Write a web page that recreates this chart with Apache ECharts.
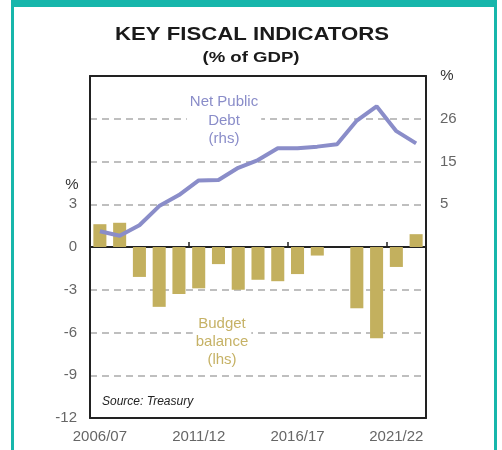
<!DOCTYPE html>
<html>
<head>
<meta charset="utf-8">
<script src="https://cdn.jsdelivr.net/npm/echarts@6/dist/echarts.min.js"></script>
<style>
  html, body { margin: 0; padding: 0; background: #fff; }
  #chart { width: 502px; height: 450px; }
</style>
</head>
<body>
<div id="chart"></div>
<script>
// Financial years
const years = ['2006/07','2007/08','2008/09','2009/10','2010/11','2011/12','2012/13','2013/14',
  '2014/15','2015/16','2016/17','2017/18','2018/19','2019/20','2020/21','2021/22','2022/23'];

// Underlying cash balance, % of GDP (left axis)
const budgetBalance = [1.6, 1.7, -2.1, -4.2, -3.3, -2.9, -1.2, -3.0, -2.3, -2.4, -1.9, -0.6, 0.0, -4.3, -6.4, -1.4, 0.9];

// Net public debt, % of GDP (right axis)
const netDebt = [-1.9, -3.0, -0.4, 4.3, 7.0, 10.6, 10.7, 13.7, 15.6, 18.5, 18.5, 18.9, 19.5, 25.3, 28.8, 22.7, 19.7];

// Left axis range and step
const lhsMin = -12, lhsMax = 12, lhsStep = 3, lhsLabelTop = 3;
// Right axis range and step (labels rounded to whole numbers)
const rhsMin = -47.75, rhsMax = 36.25, rhsStep = 10.5, rhsLabelLow = 0, rhsLabelHigh = 30;

const FONT = 'Liberation Sans, Arial, sans-serif';
const teal = '#17b6ab';
const debtColor = '#8a8dc9';
const balanceColor = '#c3b05e';
const balanceText = '#c6b266';
const labelGrey = '#666666';
const frame = { color: '#222', width: 2 };

const chart = echarts.init(document.getElementById('chart'), null, { renderer: 'canvas' });

chart.setOption({
  backgroundColor: '#ffffff',
  animation: false,
  grid: {
    left: 90, right: 76, top: 76, bottom: 32,
    show: false, containLabel: false
  },
  xAxis: [
    {
      // bottom edge of the frame with the year labels
      type: 'category', data: years, position: 'bottom',
      axisLine: { show: true, onZero: false, lineStyle: frame },
      axisTick: { show: false },
      axisLabel: { interval: 4, color: labelGrey, fontFamily: FONT, fontSize: 15, margin: 11 },
      splitLine: { show: false }
    },
    {
      // zero line with ticks every five years
      type: 'category', data: years, position: 'bottom',
      axisLine: { show: true, onZero: true, onZeroAxisIndex: 0, lineStyle: frame },
      axisTick: { show: true, interval: 4, inside: true, length: 5, lineStyle: { color: '#222', width: 1.5 } },
      axisLabel: { show: false },
      splitLine: { show: false }
    },
    {
      // top edge of the frame
      type: 'category', data: years, position: 'top',
      axisLine: { show: true, onZero: false, lineStyle: frame },
      axisTick: { show: false },
      axisLabel: { show: false },
      splitLine: { show: false }
    }
  ],
  yAxis: [
    {
      type: 'value', position: 'left',
      min: lhsMin, max: lhsMax, interval: lhsStep,
      axisLine: { show: true, onZero: false, lineStyle: frame },
      axisTick: { show: false },
      axisLabel: {
        color: labelGrey, fontFamily: FONT, fontSize: 15, margin: 13,
        formatter: v => (v <= lhsLabelTop ? String(v) : '')
      },
      splitLine: { show: true, lineStyle: { color: '#aaaaaa', width: 1.5, type: [7, 5] } }
    },
    {
      type: 'value', position: 'right',
      min: rhsMin, max: rhsMax, interval: rhsStep,
      axisLine: { show: true, onZero: false, lineStyle: frame },
      axisTick: { show: false },
      axisLabel: {
        color: labelGrey, fontFamily: FONT, fontSize: 15, margin: 14,
        formatter: v => (v > rhsLabelLow && v < rhsLabelHigh ? String(Math.round(v)) : '')
      },
      splitLine: { show: false }
    }
  ],
  series: [
    {
      name: 'Budget balance', type: 'bar',
      xAxisIndex: 0, yAxisIndex: 0,
      data: budgetBalance,
      barWidth: '66%',
      itemStyle: { color: balanceColor },
      z: 2
    },
    {
      name: 'Net Public Debt', type: 'line',
      xAxisIndex: 0, yAxisIndex: 1,
      data: netDebt,
      symbol: 'none',
      lineStyle: { color: debtColor, width: 4 },
      z: 3
    }
  ],
  graphic: [
    // teal frame around the panel
    { type: 'rect', shape: { x: 11, y: 0, width: 486, height: 7 }, style: { fill: teal }, silent: true },
    { type: 'rect', shape: { x: 11, y: 0, width: 3, height: 450 }, style: { fill: teal }, silent: true },
    { type: 'rect', shape: { x: 494, y: 0, width: 3, height: 450 }, style: { fill: teal }, silent: true },
    // heading, set in a wide bold face
    {
      type: 'text', x: 252, y: 34.5, scaleX: 1.2, z: 100,
      style: { text: 'KEY FISCAL INDICATORS', fill: '#1a1a1a', font: 'bold 18.5px ' + FONT, textAlign: 'center', textVerticalAlign: 'middle' }
    },
    {
      type: 'text', x: 251, y: 57.5, scaleX: 1.2, z: 100,
      style: { text: '(% of GDP)', fill: '#1a1a1a', font: 'bold 15.5px ' + FONT, textAlign: 'center', textVerticalAlign: 'middle' }
    },
    // axis unit markers
    { type: 'text', x: 72, y: 185, style: { text: '%', fill: '#333', font: '15px ' + FONT, textAlign: 'center', textVerticalAlign: 'middle' }, z: 100 },
    { type: 'text', x: 447, y: 76, style: { text: '%', fill: '#333', font: '15px ' + FONT, textAlign: 'center', textVerticalAlign: 'middle' }, z: 100 },
    // series annotations
    {
      type: 'text', x: 224, y: 93, z: 100,
      style: {
        text: 'Net Public\nDebt\n(rhs)', fill: debtColor, font: '15px ' + FONT,
        textAlign: 'center', lineHeight: 18.5, backgroundColor: '#fff', padding: [0, 3, 0, 3]
      }
    },
    {
      type: 'text', x: 222, y: 314.5, z: 100,
      style: {
        text: 'Budget\nbalance\n(lhs)', fill: balanceText, font: '15px ' + FONT,
        textAlign: 'center', lineHeight: 18, backgroundColor: '#fff', padding: [0, 3, 0, 3]
      }
    },
    {
      type: 'text', x: 102, y: 402, z: 100,
      style: { text: 'Source: Treasury', fill: '#222', font: 'italic 12px ' + FONT, textAlign: 'left', textVerticalAlign: 'middle' }
    }
  ]
});
</script>
</body>
</html>
